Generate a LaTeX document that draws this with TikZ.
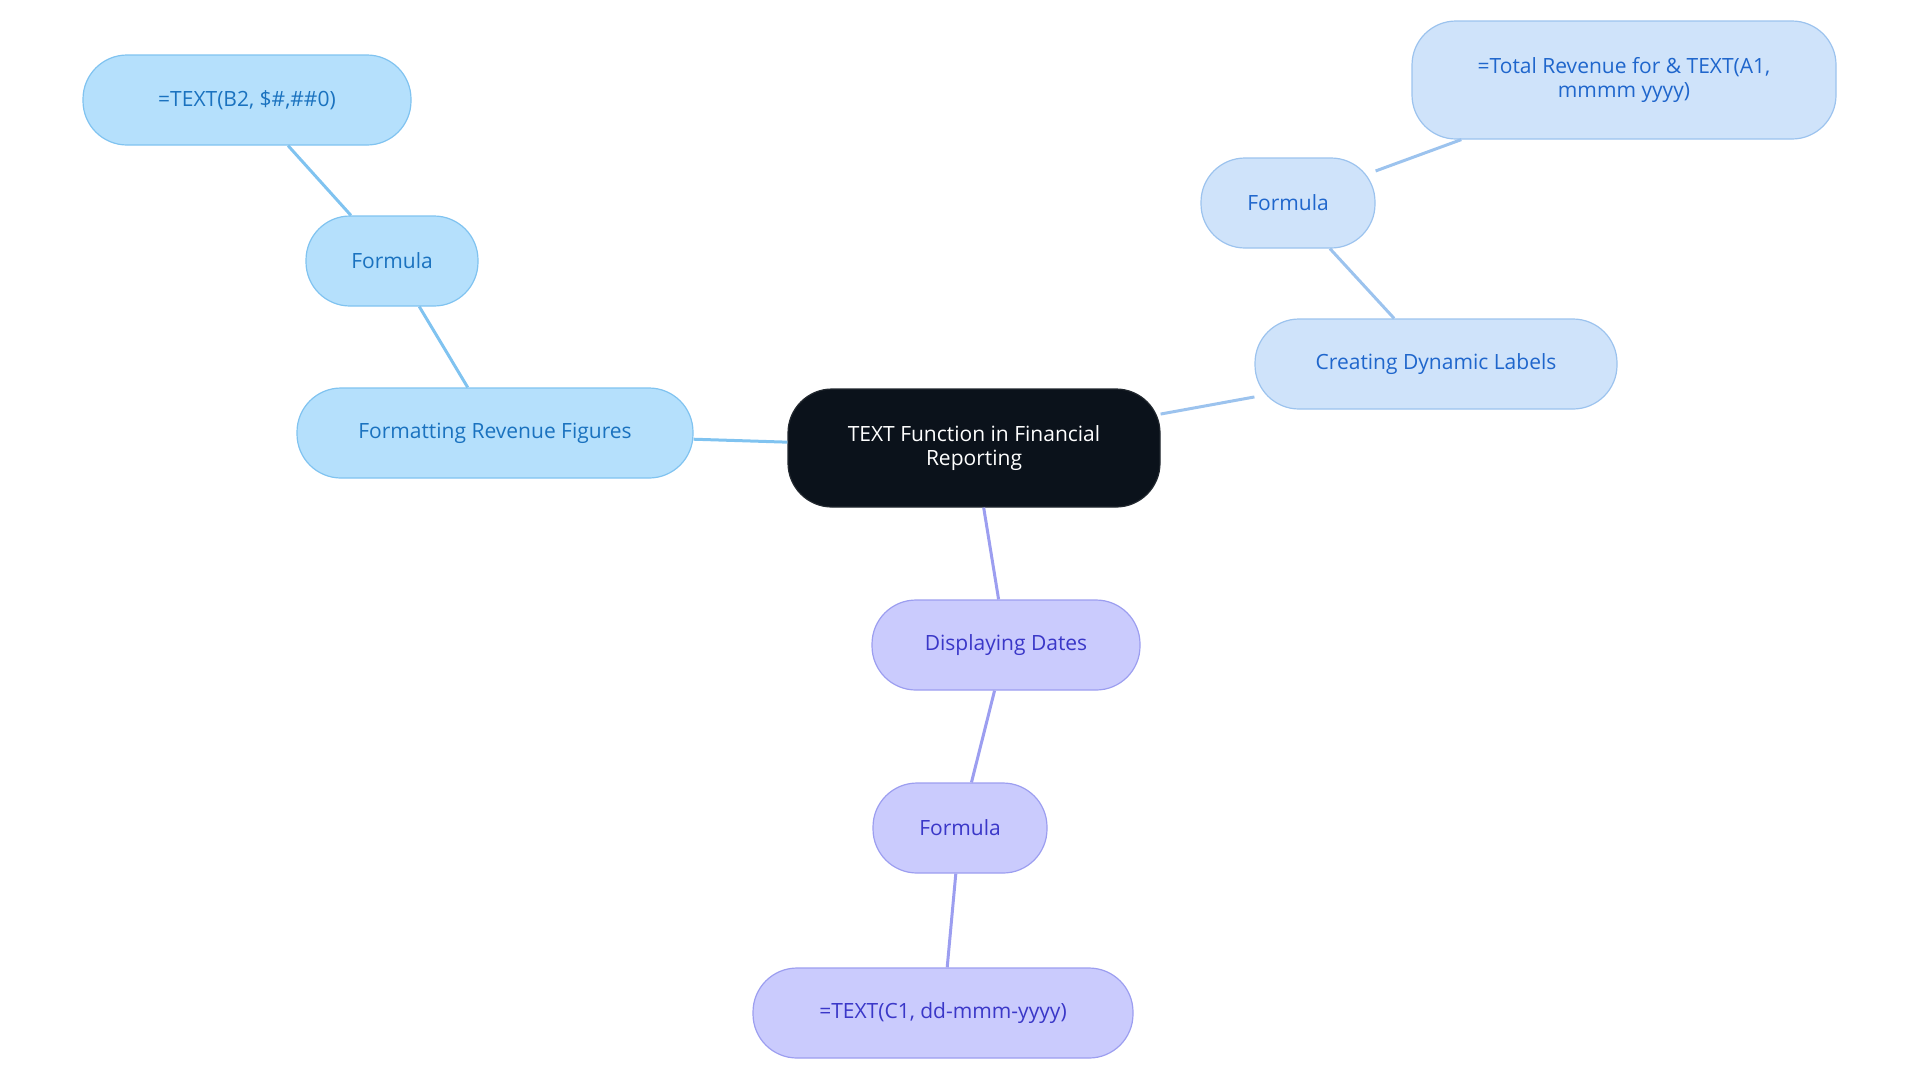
\documentclass[tikz,border=0pt]{standalone}
\usepackage{fontspec}
\setmainfont{Open Sans}
\definecolor{bF}{HTML}{B5E0FC}\definecolor{bD}{HTML}{80C3F0}\definecolor{bT}{HTML}{1A72BF}
\definecolor{rF}{HTML}{CFE3FA}\definecolor{rD}{HTML}{9CC3EE}\definecolor{rT}{HTML}{1F66CC}
\definecolor{pF}{HTML}{CACBFD}\definecolor{pD}{HTML}{9C9EF0}\definecolor{pT}{HTML}{3A37C8}
\definecolor{cF}{HTML}{0B121B}
\begin{document}
\begin{tikzpicture}[x=0.5pt,y=-0.5pt,
 box/.style={rounded corners=22pt,line width=0.6pt,inner sep=0pt,align=center,font=\fontsize{10.5}{12}\selectfont,minimum height=45pt},
 bb/.style={box,fill=bF,draw=bD,text=bT},
 rb/.style={box,fill=rF,draw=rD,text=rT},
 pb/.style={box,fill=pF,draw=pD,text=pT},
 el/.style={line width=1.5pt}]
\useasboundingbox (0,0) rectangle (1920,1083);
\node[box,fill=cF,draw=cF!80!gray,text=white,minimum width=186pt,minimum height=59pt] (c) at (974,448) {TEXT Function in Financial\\Reporting};
\node[bb,minimum width=198pt] (f) at (495,433) {Formatting Revenue Figures};
\node[bb,minimum width=86pt] (fl) at (392,261) {Formula};
\node[bb,minimum width=164pt] (tb) at (247,100) {=TEXT(B2, \$\#,\#\#0)};
\node[rb,minimum width=181pt] (cr) at (1436,364) {Creating Dynamic Labels};
\node[rb,minimum width=87pt] (fr) at (1288,203) {Formula};
\node[rb,minimum width=212pt,minimum height=59pt] (tt) at (1624,80) {=Total Revenue for \& TEXT(A1,\\mmmm yyyy)};
\node[pb,minimum width=134pt] (d) at (1006,645) {Displaying Dates};
\node[pb,minimum width=87pt] (fb) at (960,828) {Formula};
\node[pb,minimum width=190pt] (tc) at (943,1013) {=TEXT(C1, dd-mmm-yyyy)};
\draw[el,bD] (c)--(f) (f)--(fl) (fl)--(tb);
\draw[el,rD] (c)--(cr) (cr)--(fr) (fr)--(tt);
\draw[el,pD] (c)--(d) (d)--(fb) (fb)--(tc);
\end{tikzpicture}
\end{document}
